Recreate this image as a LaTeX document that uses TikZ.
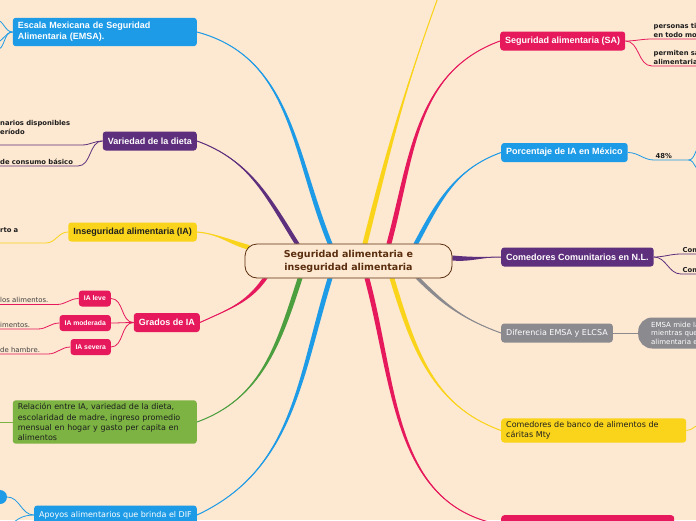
\documentclass[tikz,border=0pt]{standalone}
\usepackage{fontspec}
\setmainfont{DejaVu Sans}
\newfontfamily\headfont{Liberation Sans}

\definecolor{paper}{HTML}{FDE8D1}
\definecolor{mmblue}{HTML}{1E9BE6}
\definecolor{mmpurple}{HTML}{5E2F7C}
\definecolor{mmyellow}{HTML}{FAD41B}
\definecolor{mmpink}{HTML}{E6195C}
\definecolor{mmgreen}{HTML}{7CB342}
\definecolor{mmgreenline}{HTML}{4C9F3F}
\definecolor{mmgray}{HTML}{8B8A8F}
\definecolor{rootline}{HTML}{5A2E0E}
\definecolor{leaftext}{HTML}{1E1E1E}

\pgfdeclarelayer{links}
\pgfsetlayers{links,main}

% tapered branch: colour, from, to, out, in, shift key
\newcommand\limb[6]{%
  \fill[#1] ([#6=-2.5pt]#2) to[out=#4,in=#5] (#3)
    to[out=#5,in=#4] ([#6=2.5pt]#2) -- cycle;
  \draw[#1, line width=1pt] (#2) to[out=#4,in=#5] (#3);
}

\begin{document}
\begin{tikzpicture}[
    x=1pt, y=1pt,
    root/.style={draw=rootline, line width=0.8pt, fill=paper, rounded corners=12pt, minimum width=207pt, minimum height=34pt, align=center, text=rootline, font=\bfseries\fontsize{9.5}{13}\selectfont},
    topic/.style={rounded corners=3pt, inner xsep=5pt, inner ysep=3pt, minimum height=19pt, align=left, text=white, font=\headfont\bfseries\fontsize{9}{11}\selectfont},
    note/.style={topic, font=\fontsize{8}{10.3}\selectfont},
    grade/.style={topic, fill=mmpink, anchor=east, minimum height=16pt, inner xsep=5pt, font=\headfont\bfseries\fontsize{6.8}{8}\selectfont},
    leaf/.style={anchor=south west, inner xsep=1.5pt, inner ysep=1.5pt, align=left, text=leaftext, font=\bfseries\fontsize{6.8}{9}\selectfont},
    plainleaf/.style={leaf, text=leaftext!85, font=\fontsize{6.9}{9}\selectfont},
    pill/.style={anchor=west, fill=mmgray, rounded corners=14pt, minimum height=31pt, inner xsep=13pt, inner ysep=3pt, text width=80pt, align=left, text=white, font=\fontsize{7}{8.5}\selectfont},
    twig/.style={line width=0.8pt}
]
    \useasboundingbox (0,0) rectangle (696,-520);
    \clip (0,0) rectangle (696,-520);

    % centre
    \node[root] (root) at (348.5,-261) {Seguridad alimentaria e\\inseguridad alimentaria};

    % left topics
    \node[topic, fill=mmblue, anchor=east, text width=174pt, inner ysep=4.5pt] (emsa) at (197,-32) {Escala Mexicana de Seguridad\\Alimentaria (EMSA).};
    \node[topic, fill=mmpurple, anchor=east] (var) at (197,-141) {Variedad de la dieta};
    \node[topic, fill=mmyellow, text=leaftext, anchor=east] (ins) at (197,-232) {Inseguridad alimentaria (IA)};
    \node[topic, fill=mmpink, anchor=east] (grad) at (200,-322.5) {Grados de IA};
    \node[grade] (leve) at (111,-298.5) {IA leve};
    \node[grade] (mod) at (111,-323) {IA moderada};
    \node[grade] (sev) at (111,-347) {IA severa};
    \node[note, fill=mmgreen, text=leaftext, anchor=east, text width=174pt] (rel) at (197,-422) {Relación entre IA, variedad de la dieta,\\escolaridad de madre, ingreso promedio\\mensual en hogar y gasto per capita en\\alimentos};
    \node[note, fill=mmblue, anchor=east] (apo) at (197,-515) {Apoyos alimentarios que brinda el DIF};
    \node[circle, fill=mmblue, minimum size=14pt, inner sep=0pt] (dot) at (0,-497) {};

    % right topics
    \node[topic, fill=mmpink, anchor=west] (sa) at (500,-41) {Seguridad alimentaria (SA)};
    \node[topic, fill=mmblue, anchor=west] (pct) at (501,-152.5) {Porcentaje de IA en México};
    \node[topic, fill=mmpurple, anchor=west] (com) at (501,-257) {Comedores Comunitarios en N.L.};
    \node[note, fill=mmgray, anchor=west] (dif) at (501,-333) {Diferencia EMSA y ELCSA};
    \node[note, fill=mmyellow, text=leaftext, anchor=west, text width=175pt] (car) at (501,-430.5) {Comedores de banco de alimentos de\\cáritas Mty};
    \node[topic, fill=mmpink, anchor=north west, minimum width=173pt] (low) at (501,-515) {};

    % leaves
    \node[leaf, text width=80pt] (v1) at (-1.5,-145) {narios disponibles\\eríodo\\\mbox{}};
    \node[leaf, text width=76pt] (v2) at (-1.5,-166) {de consumo básico};
    \node[leaf, text width=44pt] (i1) at (-1.5,-243) {rto a\\\mbox{}};
    \node[plainleaf, text width=55pt] (l1) at (-1.5,-304.5) {los alimentos.};
    \node[plainleaf, text width=36pt] (l2) at (-1.5,-329) {imentos.};
    \node[plainleaf, text width=46pt] (l3) at (-1.5,-354) {de hambre.};
    \node[leaf, text width=120pt] (s1) at (652,-39) {personas tienen,\\en todo momento};
    \node[leaf, text width=120pt] (s2) at (652,-66) {permiten satisfacer sus\\alimentarias};
    \node[leaf, text width=31pt] (p1) at (654,-160) {48\%};
    \node[leaf, text width=60pt] (c1) at (681,-254) {Comedores};
    \node[leaf, text width=60pt] (c2) at (681,-274) {Comedores};
    \node[pill] (d1) at (638,-333) {EMSA mide la\\mientras que la\\alimentaria en};

    % points on the centre and loose ends
    \coordinate (r-emsa) at ([xshift=-18.5pt]root.north);
    \coordinate (r-var) at ([xshift=-51.5pt]root.north);
    \coordinate (r-top) at ([xshift=16.5pt]root.north);
    \coordinate (r-sa) at ([xshift=40.5pt]root.north);
    \coordinate (r-pct) at ([xshift=67.5pt]root.north);
    \coordinate (r-ins) at ([shift={(5pt,-4pt)}]root.north west);
    \coordinate (r-com) at ([yshift=3pt]root.east);
    \coordinate (r-grad) at ([xshift=-83.5pt]root.south);
    \coordinate (r-rel) at ([xshift=-48.5pt]root.south);
    \coordinate (r-apo) at ([xshift=-18.5pt]root.south);
    \coordinate (r-low) at ([xshift=18.5pt]root.south);
    \coordinate (r-car) at ([xshift=43.5pt]root.south);
    \coordinate (r-dif) at ([xshift=69.5pt]root.south);
    \coordinate (top-off) at (440,8);
    \coordinate (e-a) at (-4,-20);
    \coordinate (e-b) at (-4,-42);
    \coordinate (e-c) at (-4,-50);
    \coordinate (g-a) at (-4,-422);
    \coordinate (a-a) at (8,-530);
    \coordinate (p-a) at (702,-146);
    \coordinate (p-b) at (702,-172);
    \coordinate (c-a) at (702,-424);

    \begin{pgfonlayer}{links}
    \fill[paper] (0,0) rectangle (696,-520);

    % main branches
    \limb{mmblue}{r-emsa}{emsa.east}{112}{-15}{xshift}
    \limb{mmpurple}{r-var}{var.east}{122}{-20}{xshift}
    \limb{mmyellow}{r-ins}{ins.east}{165}{-5}{yshift}
    \limb{mmyellow}{r-top}{top-off}{76}{250}{xshift}
    \limb{mmpink}{r-sa}{sa.west}{75}{200}{xshift}
    \limb{mmblue}{r-pct}{pct.west}{62}{200}{xshift}
    \limb{mmpurple}{r-com}{com.west}{-5}{180}{yshift}
    \limb{mmpink}{r-grad}{grad.east}{235}{25}{xshift}
    \limb{mmgreenline}{r-rel}{rel.east}{252}{20}{xshift}
    \limb{mmblue}{r-apo}{apo.east}{253}{25}{xshift}
    \limb{mmpink}{r-low}{low.west}{-75}{170}{xshift}
    \limb{mmyellow}{r-car}{car.west}{-73}{160}{xshift}
    \limb{mmgray}{r-dif}{dif.west}{-45}{160}{xshift}

    % sub branches
    \draw[twig, mmblue] (emsa.west) to[out=180,in=0] (e-a);
    \draw[twig, mmblue] (emsa.west) to[out=180,in=0] (e-b);
    \draw[twig, mmblue] (emsa.west) to[out=180,in=0] (e-c);
    \draw[twig, mmpurple] (v1.south west) -- (v1.south east) to[out=0,in=180] (var.west);
    \draw[twig, mmpurple] (v2.south west) -- (v2.south east) to[out=0,in=180] (var.west);
    \draw[twig, mmyellow] (i1.south west) -- (i1.south east) to[out=0,in=180] (ins.west);
    \draw[twig, mmpink] (grad.west) to[out=180,in=0] (leve.east);
    \draw[twig, mmpink] (grad.west) to[out=180,in=0] (mod.east);
    \draw[twig, mmpink] (grad.west) to[out=180,in=0] (sev.east);
    \draw[twig, mmpink] (l1.south west) -- (l1.south east) to[out=0,in=180] (leve.west);
    \draw[twig, mmpink] (l2.south west) -- (l2.south east) to[out=0,in=180] (mod.west);
    \draw[twig, mmpink] (l3.south west) -- (l3.south east) to[out=0,in=180] (sev.west);
    \draw[twig, mmgreen] (rel.west) -- (g-a);
    \draw[twig, mmblue] (apo.west) to[out=180,in=0] (dot.east);
    \draw[twig, mmblue] (apo.west) to[out=180,in=60] (a-a);
    \draw[twig, mmpink] (sa.east) to[out=0,in=180] (s1.south west) -- (s1.south east);
    \draw[twig, mmpink] (sa.east) to[out=0,in=180] (s2.south west) -- (s2.south east);
    \draw[twig, mmblue] (pct.east) to[out=0,in=180] (p1.south west) -- (p1.south east);
    \draw[twig, mmblue] (p1.south east) to[out=0,in=180] (p-a);
    \draw[twig, mmblue] (p1.south east) to[out=0,in=180] (p-b);
    \draw[twig, mmpurple] (com.east) to[out=0,in=180] (c1.south west) -- (c1.south east);
    \draw[twig, mmpurple] (com.east) to[out=0,in=180] (c2.south west) -- (c2.south east);
    \draw[twig, mmgray] (dif.east) -- (d1.west);
    \draw[twig, mmyellow] (car.east) to[out=0,in=180] (c-a);
    \end{pgfonlayer}
\end{tikzpicture}
\end{document}
